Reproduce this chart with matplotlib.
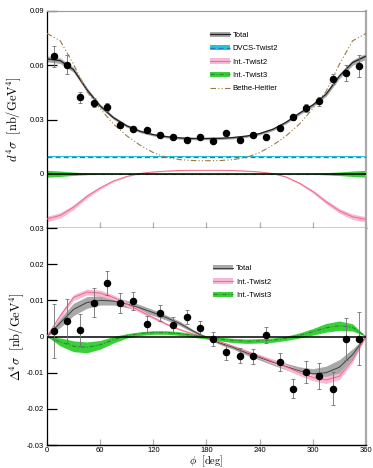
import matplotlib
matplotlib.use("Agg")
import matplotlib.pyplot as plt
import numpy as np
from matplotlib.patches import Patch
from matplotlib.lines import Line2D

plt.rcParams['font.family'] = ['Liberation Sans', 'DejaVu Sans']
plt.rcParams['mathtext.fontset'] = 'cm'
plt.rcParams['axes.unicode_minus'] = False

# ---- data: bin centres ----
phi_pts = [7.5, 22.5, 37.5, 52.5, 67.5, 82.5, 97.5, 112.5, 127.5, 142.5, 157.5, 172.5,
           187.5, 202.5, 217.5, 232.5, 247.5, 262.5, 277.5, 292.5, 307.5, 322.5, 337.5, 352.5]

# unpolarised cross section d4sigma
xs_val = [0.0650, 0.0604, 0.0422, 0.0393, 0.0367, 0.0270, 0.0250, 0.0240, 0.0217, 0.0202, 0.0187, 0.0202,
          0.0180, 0.0226, 0.0189, 0.0217, 0.0206, 0.0254, 0.0315, 0.0363, 0.0400, 0.0524, 0.0557, 0.0594]
xs_err = [0.0058, 0.0050, 0.0030, 0.0025, 0.0022, 0.0018, 0.0016, 0.0015, 0.0014, 0.0013, 0.0012, 0.0012,
          0.0012, 0.0013, 0.0013, 0.0014, 0.0015, 0.0016, 0.0018, 0.0022, 0.0025, 0.0030, 0.0045, 0.0060]

# beam-helicity difference Delta4sigma
dxs_val = [0.0016, 0.0043, 0.0017, 0.0094, 0.0149, 0.0092, 0.0097, 0.0035, 0.0064, 0.0033, 0.0054, 0.0024,
           -0.0007, -0.0044, -0.0053, -0.0055, 0.0004, -0.0070, -0.0144, -0.0098, -0.0109, -0.0144, -0.0006, -0.0006]
dxs_err = [0.0075, 0.0062, 0.0044, 0.0040, 0.0033, 0.0028, 0.0025, 0.0023, 0.0022, 0.0022, 0.0020, 0.0020,
           0.0020, 0.0020, 0.0020, 0.0020, 0.0021, 0.0025, 0.0027, 0.0031, 0.0037, 0.0045, 0.0058, 0.0073]

# ---- model curves, read every 15 deg ----
phi_c = list(range(0, 361, 15))

top_total = [0.0635, 0.0625, 0.0575, 0.0465, 0.0375, 0.0310, 0.0265, 0.0235, 0.0216, 0.0205, 0.0198, 0.0195, 0.0195,
             0.0196, 0.0200, 0.0208, 0.0222, 0.0246, 0.0285, 0.0335, 0.0380, 0.0440, 0.0540, 0.0615, 0.0650]
top_total_w = [0.0016, 0.0015, 0.0014, 0.0012, 0.0010, 0.0009, 0.0008, 0.0008, 0.0007, 0.0007, 0.0007, 0.0007, 0.0007,
               0.0007, 0.0007, 0.0007, 0.0007, 0.0008, 0.0008, 0.0009, 0.0010, 0.0012, 0.0014, 0.0015, 0.0016]
top_dvcs = [0.0094] * 25
top_dvcs_w = [0.0004] * 25
top_int2 = [-0.0250, -0.0230, -0.0185, -0.0125, -0.0078, -0.0040, -0.0015, 0.0002, 0.0010, 0.0015, 0.0018, 0.0019, 0.0019,
            0.0019, 0.0018, 0.0015, 0.0010, 0.0001, -0.0018, -0.0052, -0.0098, -0.0155, -0.0205, -0.0238, -0.0252]
top_int2_w = [0.0015, 0.0015, 0.0013, 0.0011, 0.0008, 0.0005, 0.0003, 0.0002, 0.0002, 0.0002, 0.0002, 0.0002, 0.0002,
              0.0002, 0.0002, 0.0002, 0.0002, 0.0002, 0.0003, 0.0005, 0.0008, 0.0011, 0.0013, 0.0015, 0.0015]
top_int3 = [0.0000] * 25
top_int3_w = [0.0019, 0.0015, 0.0009, 0.0005, 0.0003, 0.0002, 0.0002, 0.0002, 0.0002, 0.0002, 0.0002, 0.0002, 0.0002,
              0.0002, 0.0002, 0.0002, 0.0002, 0.0002, 0.0002, 0.0002, 0.0003, 0.0006, 0.0010, 0.0015, 0.0019]
top_bh = [0.0776, 0.0735, 0.0605, 0.0455, 0.0360, 0.0275, 0.0210, 0.0158, 0.0117, 0.0090, 0.0078, 0.0073, 0.0072,
          0.0073, 0.0078, 0.0090, 0.0117, 0.0158, 0.0210, 0.0275, 0.0360, 0.0455, 0.0605, 0.0735, 0.0776]

bot_total = [0.0, 0.0038, 0.0075, 0.0094, 0.0100, 0.0098, 0.0090, 0.0079, 0.0066, 0.0052, 0.0036, 0.0015, -0.0003,
             -0.0018, -0.0030, -0.0045, -0.0058, -0.0071, -0.0083, -0.0095, -0.0103, -0.0100, -0.0085, -0.0050, 0.0]
bot_total_w = [0.0, 0.0013, 0.0017, 0.0016, 0.0013, 0.0011, 0.0010, 0.0009, 0.0008, 0.0007, 0.0006, 0.0004, 0.0003,
               0.0004, 0.0005, 0.0006, 0.0007, 0.0008, 0.0009, 0.0011, 0.0014, 0.0018, 0.0021, 0.0016, 0.0]
bot_int2 = [0.0, 0.0058, 0.0108, 0.0123, 0.0120, 0.0108, 0.0090, 0.0071, 0.0052, 0.0034, 0.0019, 0.0007, -0.0003,
            -0.0014, -0.0027, -0.0041, -0.0055, -0.0069, -0.0084, -0.0100, -0.0113, -0.0120, -0.0110, -0.0065, 0.0]
bot_int2_w = [0.0, 0.0006, 0.0008, 0.0008, 0.0008, 0.0007, 0.0006, 0.0005, 0.0004, 0.0003, 0.0002, 0.0002, 0.0002,
              0.0002, 0.0003, 0.0004, 0.0005, 0.0006, 0.0007, 0.0008, 0.0009, 0.0010, 0.0009, 0.0006, 0.0]
bot_int3 = [0.0, -0.0015, -0.0027, -0.0030, -0.0023, -0.0009, 0.0002, 0.0008, 0.0011, 0.0011, 0.0008, 0.0003, -0.0002,
            -0.0007, -0.0011, -0.0013, -0.0012, -0.0010, -0.0005, 0.0003, 0.0013, 0.0024, 0.0030, 0.0025, 0.0]
bot_int3_w = [0.0, 0.0011, 0.0015, 0.0015, 0.0012, 0.0009, 0.0006, 0.0005, 0.0005, 0.0005, 0.0005, 0.0005, 0.0005,
              0.0005, 0.0006, 0.0006, 0.0006, 0.0006, 0.0006, 0.0007, 0.0009, 0.0012, 0.0013, 0.0010, 0.0]

# ---- styles ----
C_GRAY, C_BLACK = '#a8a8a8', '#202020'
C_CYAN, C_BLUE = '#1ec8d8', '#3a6fc0'
C_PINK, C_RED = '#f9b9d6', '#f06a82'
C_GREEN, C_DGREEN = '#3ad03a', '#2a8a2a'
C_BH = '#9c7a40'


def band(ax, y, w, fc, lc, ls, lw=0.9):
    y = np.array(y); w = np.array(w)
    ax.fill_between(phi_c, y - w, y + w, color=fc, lw=0, zorder=2)
    ax.plot(phi_c, y, color=lc, ls=ls, lw=lw, zorder=3)
    return (Patch(facecolor=fc, edgecolor='none'), Line2D([], [], color=lc, ls=ls, lw=lw))


def style(ax):
    ax.set_xlim(0, 360)
    ax.spines['left'].set_color('k')
    ax.spines['bottom'].set_color('k')
    ax.spines['top'].set_color('#999999')
    ax.spines['right'].set_color('#aaaaaa')
    ax.spines['right'].set_linewidth(1.6)
    ax.spines['left'].set_linewidth(0.9)
    ax.spines['bottom'].set_linewidth(1.0)
    ax.set_xticks([0, 60, 120, 180, 240, 300, 360])
    ax.tick_params(axis='x', direction='in', length=4.5, width=0.9, color='#b0b0b0', labelsize=5.5, pad=1.5)
    ax.tick_params(axis='y', direction='in', length=7.5, width=0.9, color='k', labelsize=5.5, pad=2, right=False)
    ax.axhline(0, color='k', lw=1.1, zorder=4)


fig = plt.figure(figsize=(3.73, 4.68), dpi=100)
ax1 = fig.add_axes([0.126, 0.5128, 0.855, 0.4637])
ax2 = fig.add_axes([0.126, 0.0491, 0.855, 0.4637])

# top panel
h_tot = band(ax1, top_total, top_total_w, C_GRAY, C_BLACK, '-')
h_dvcs = band(ax1, top_dvcs, top_dvcs_w, C_CYAN, C_BLUE, (0, (4, 2.5)), lw=0.9)
h_int2 = band(ax1, top_int2, top_int2_w, C_PINK, C_RED, '-', lw=0.7)
h_int3 = band(ax1, top_int3, top_int3_w, C_GREEN, C_DGREEN, (0, (4, 1.5, 1, 1.5)), lw=0.8)
ax1.plot(phi_c, top_bh, color=C_BH, ls=(0, (5, 2, 1, 2, 1, 2)), lw=0.8, zorder=3)
h_bh = Line2D([], [], color=C_BH, ls=(0, (5, 2, 1, 2, 1, 2)), lw=0.8)
ax1.errorbar(phi_pts, xs_val, yerr=xs_err, fmt='o', ms=4.4, color='k', ecolor='#707070',
             elinewidth=0.6, capsize=1.3, capthick=0.6, zorder=5)
style(ax1)
ax1.set_ylim(-0.03, 0.09)
ax1.set_yticks([0, 0.03, 0.06, 0.09])
ax1.set_yticklabels(['0', '0.03', '0.06', '0.09'])
ax1.tick_params(axis='x', labelbottom=False)
ax1.set_ylabel(r'$d^4\sigma\ \ [\mathrm{nb/GeV}^4]$', fontsize=9, labelpad=5)
ax1.legend([h_tot, h_dvcs, h_int2, h_int3, h_bh],
           ['Total', 'DVCS-Twist2', 'Int.-Twist2', 'Int.-Twist3', 'Bethe-Heitler'],
           loc='upper left', bbox_to_anchor=(0.51, 0.905), frameon=False, fontsize=5.5,
           handlelength=2.6, handletextpad=0.4, labelspacing=0.78, borderpad=0, borderaxespad=0)

# bottom panel
g_tot = band(ax2, bot_total, bot_total_w, C_GRAY, '#404040', '-', lw=0.7)
g_int2 = band(ax2, bot_int2, bot_int2_w, C_PINK, C_RED, '-', lw=0.7)
g_int3 = band(ax2, bot_int3, bot_int3_w, C_GREEN, C_DGREEN, (0, (4, 1.5, 1, 1.5)), lw=0.8)
ax2.errorbar(phi_pts, dxs_val, yerr=dxs_err, fmt='o', ms=4.4, color='k', ecolor='#707070',
             elinewidth=0.6, capsize=1.3, capthick=0.6, zorder=5)
style(ax2)
ax2.spines['top'].set_visible(False)
ax2.set_ylim(-0.03, 0.03)
ax2.set_yticks([-0.03, -0.02, -0.01, 0, 0.01, 0.02, 0.03])
ax2.set_yticklabels(['-0.03', '-0.02', '-0.01', '0', '0.01', '0.02', '0.03'])
ax2.set_ylabel(r'$\Delta^4\sigma\ \ [\mathrm{nb/GeV}^4]$', fontsize=9, labelpad=1)
ax2.set_xlabel(r'$\phi\ \ [\mathrm{deg}]$', fontsize=7.5, labelpad=-0.5)
ax2.legend([g_tot, g_int2, g_int3], ['Total', 'Int.-Twist2', 'Int.-Twist3'],
           loc='upper left', bbox_to_anchor=(0.52, 0.83), frameon=False, fontsize=5.5,
           handlelength=2.6, handletextpad=0.4, labelspacing=0.78, borderpad=0, borderaxespad=0)

fig.savefig('out.png', dpi=100)
